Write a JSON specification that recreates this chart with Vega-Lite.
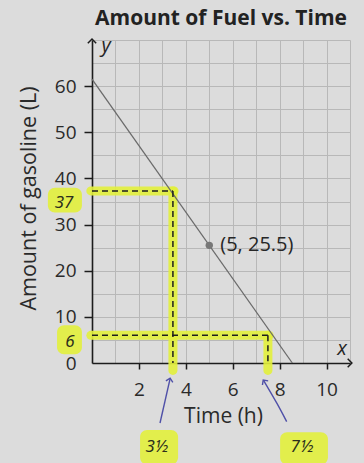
{
  "$schema": "https://vega.github.io/schema/vega-lite/v6.json",
  "width": 258,
  "height": 323,
  "autosize": "none",
  "padding": {"left": 92, "top": 40, "right": 14, "bottom": 100},
  "background": "#dcdcdc",
  "title": {"text": "Amount of Fuel vs. Time", "font": "Open Sans", "fontSize": 21, "fontWeight": "bold", "color": "#222222", "anchor": "middle", "frame": "group", "baseline": "alphabetic", "offset": -10},
  "config": {"view": {"stroke": null}},
  "encoding": {
    "x": {"field": "x", "type": "quantitative",
      "scale": {"domain": [0, 11], "nice": false, "zero": false},
      "axis": {
        "values": [0, 1, 2, 3, 4, 5, 6, 7, 8, 9, 10, 11],
        "grid": true, "gridColor": "#b8b8b8", "gridWidth": 1,
        "domainColor": "#1c1c1c", "domainWidth": 1.6,
        "tickColor": "#1c1c1c", "tickWidth": 1.5, "tickSize": 6,
        "tickOpacity": {"condition": {"test": "datum.value % 2 == 0 && datum.value > 0 && datum.value < 11", "value": 1}, "value": 0},
        "labelExpr": "datum.value % 2 == 0 && datum.value > 0 && datum.value < 11 ? datum.label : ''",
        "labelFont": "Open Sans", "labelFontSize": 19, "labelColor": "#2a2a2a", "labelPadding": 11,
        "title": "Time (h)", "titleFont": "Open Sans", "titleFontSize": 21, "titleFontWeight": "normal", "titleColor": "#2a2a2a",
        "titleX": 131, "titleY": 59, "titleBaseline": "alphabetic"
      }},
    "y": {"field": "y", "type": "quantitative",
      "scale": {"domain": [0, 70], "nice": false, "zero": false},
      "axis": {
        "values": [0, 5, 10, 15, 20, 25, 30, 35, 40, 45, 50, 55, 60, 65, 70],
        "grid": true, "gridColor": "#b8b8b8", "gridWidth": 1,
        "domainColor": "#1c1c1c", "domainWidth": 1.6,
        "tickColor": "#1c1c1c", "tickWidth": 1.5, "tickSize": 8,
        "tickOpacity": {"condition": {"test": "datum.value % 10 == 0 && datum.value > 0 && datum.value < 70", "value": 1}, "value": 0},
        "labelExpr": "datum.value % 10 == 0 && datum.value < 70 ? datum.label : ''",
        "labelFont": "Open Sans", "labelFontSize": 19, "labelColor": "#2a2a2a", "labelPadding": 8,
        "title": "Amount of gasoline (L)", "titleFont": "Open Sans", "titleFontSize": 21.5, "titleFontWeight": "normal", "titleColor": "#2a2a2a",
        "titleX": -57, "titleY": 158, "titleBaseline": "alphabetic"
      }}
  },
  "layer": [
    {
      "data": {"values": [
        {"x": -0.05, "y": 37.3, "x2": 3.5, "y2": 37.3},
        {"x": 3.45, "y": 37.3, "x2": 3.45, "y2": -1.6},
        {"x": -0.05, "y": 6.0, "x2": 7.55, "y2": 6.0},
        {"x": 7.5, "y": 6.0, "x2": 7.5, "y2": -1.6}
      ]},
      "mark": {"type": "rule", "color": "#e2f03c", "strokeWidth": 9, "strokeCap": "round", "opacity": 0.9},
      "encoding": {"x2": {"field": "x2"}, "y2": {"field": "y2"}}
    },
    {
      "data": {"values": [
        {"x": -1.88, "x2": -0.43, "y": 38.0, "y2": 32.6},
        {"x": -1.49, "x2": -0.43, "y": 8.2, "y2": 1.9},
        {"x": 2.05, "x2": 3.67, "y": -14.5, "y2": -22},
        {"x": 8.02, "x2": 10.06, "y": -15, "y2": -22}
      ]},
      "mark": {"type": "rect", "color": "#e2f03c", "cornerRadius": 7, "opacity": 0.9},
      "encoding": {"x2": {"field": "x2"}, "y2": {"field": "y2"}}
    },
    {
      "data": {"values": [{"x": 0, "y": 61.5}, {"x": 8.54, "y": 0}]},
      "mark": {"type": "line", "color": "#6a6a6a", "strokeWidth": 1.3}
    },
    {
      "data": {"values": [
        {"x": 0, "y": 37.3, "x2": 3.45, "y2": 37.3},
        {"x": 3.45, "y": 37.3, "x2": 3.45, "y2": 0},
        {"x": 0, "y": 6.0, "x2": 7.5, "y2": 6.0},
        {"x": 7.5, "y": 6.0, "x2": 7.5, "y2": 0}
      ]},
      "mark": {"type": "rule", "color": "#1e1e1e", "strokeWidth": 1.5, "strokeDash": [6, 4]},
      "encoding": {"x2": {"field": "x2"}, "y2": {"field": "y2"}}
    },
    {
      "data": {"values": [{"x": 5, "y": 25.5, "label": "(5, 25.5)"}]},
      "layer": [
        {"mark": {"type": "point", "filled": true, "color": "#777777", "size": 55, "opacity": 1}},
        {"mark": {"type": "text", "align": "left", "baseline": "middle", "dx": 11, "font": "Open Sans", "fontSize": 20, "color": "#262626"},
         "encoding": {"text": {"field": "label"}}}
      ]
    },
    {
      "data": {"values": [
        {"x": -1.19, "y": 34.7, "label": "37"},
        {"x": -0.94, "y": 4.6, "label": "6"},
        {"x": 2.77, "y": -18.2, "label": "3½"},
        {"x": 8.96, "y": -18.2, "label": "7½"}
      ]},
      "mark": {"type": "text", "align": "center", "baseline": "middle", "font": "Noto Sans", "fontStyle": "italic", "fontSize": 17, "color": "#2c2e1c"},
      "encoding": {"text": {"field": "label"}}
    },
    {
      "data": {"values": [
        {"x": 0.6, "y": 68.7, "label": "y"},
        {"x": 10.66, "y": 3.0, "label": "x"}
      ]},
      "mark": {"type": "text", "align": "center", "baseline": "middle", "font": "Open Sans", "fontStyle": "italic", "fontSize": 20, "color": "#262626"},
      "encoding": {"text": {"field": "label"}}
    },
    {
      "data": {"values": [
        {"arrow": "a", "i": 0, "x": 2.90, "y": -13.0},
        {"arrow": "a", "i": 1, "x": 3.33, "y": -3.4},
        {"arrow": "b", "i": 0, "x": 8.30, "y": -12.7},
        {"arrow": "b", "i": 1, "x": 7.88, "y": -8.7},
        {"arrow": "b", "i": 2, "x": 7.32, "y": -3.8}
      ]},
      "mark": {"type": "line", "color": "#4f50a8", "strokeWidth": 1.4, "interpolate": "natural"},
      "encoding": {"detail": {"field": "arrow"}, "order": {"field": "i"}}
    },
    {
      "data": {"values": [
        {"x": 3.33, "y": -3.3, "rot": 12},
        {"x": 7.30, "y": -3.7, "rot": -36}
      ]},
      "mark": {"type": "point", "shape": "M-1,1L0,0L1,1", "filled": false, "color": "#4f50a8", "strokeWidth": 1.4, "size": 50, "opacity": 1},
      "encoding": {"angle": {"field": "rot", "type": "quantitative", "scale": null}}
    },
    {
      "data": {"values": [
        {"x": 0, "y": 70.2, "rot": 0},
        {"x": 11.08, "y": 0, "rot": 90}
      ]},
      "mark": {"type": "point", "shape": "M-1,1L0,0L1,1", "filled": false, "color": "#1c1c1c", "strokeWidth": 1.5, "size": 70, "opacity": 1},
      "encoding": {"angle": {"field": "rot", "type": "quantitative", "scale": null}}
    }
  ]
}
